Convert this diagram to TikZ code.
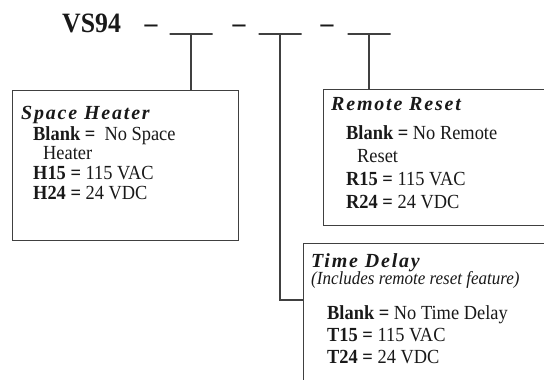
\documentclass[tikz,border=0pt]{standalone}
\usepackage{fontspec}
\setmainfont[FakeStretch=0.92]{Liberation Serif}
\newfontfamily\headfont[LetterSpace=9]{Liberation Serif}
\usetikzlibrary{positioning}

\begin{document}
\begin{tikzpicture}[x=1pt, y=-1pt,
  line/.style = {draw=black!75, line width=1.4pt},
  box/.style = {draw=black!75, line width=1.4pt, rectangle, anchor=north west, inner sep=0pt},
  slot/.style = {draw=black!75, line width=1.4pt, minimum width=43pt, minimum height=0pt, inner sep=0pt},
  code/.style = {anchor=base west, inner sep=0pt, text=black!90, font=\fontsize{28}{30}\selectfont\bfseries},
  head/.style = {anchor=base west, inner sep=0pt, text=black!90, font=\headfont\fontsize{20}{22}\selectfont\bfseries\itshape},
  entry/.style = {anchor=base west, inner sep=0pt, text=black!90, font=\fontsize{20}{22}\selectfont},
  note/.style = {anchor=base west, inner sep=0pt, text=black!90, font=\fontsize{18.5}{20}\selectfont\itshape}]
  \useasboundingbox (0,0) rectangle (544,380);
  \clip (0,0) rectangle (544,380);

  % model code
  \node[code] (vs) at (62,32) {VS94};
  \node[code, anchor=base] (d1) at (151,32) {--};
  \node[code, anchor=base] (d2) at (239,32) {--};
  \node[code, anchor=base] (d3) at (327,32) {--};
  \node[slot] (s1) at (191,34) {};
  \node[slot] (s2) at (280,34) {};
  \node[slot] (s3) at (369,34) {};

  % option boxes
  \node[box, minimum width=226pt, minimum height=150pt] (heater) at (12,90) {};
  \node[box, minimum width=280pt, minimum height=136pt] (remote) at (323,89) {};
  \node[box, minimum width=300pt, minimum height=180pt] (delay) at (303,243) {};

  \draw[line] (s1.south) -- (s1.south |- heater.north);
  \draw[line] (s3.south) -- (s3.south |- remote.north);
  \draw[line] (s2.south) |- ([yshift=-57pt]delay.north west);

  % space heater
  \node[head] (h0) at (21,119) {Space Heater};
  \node[entry] (h1) at (33,140) {\textbf{Blank =}\ \ No Space};
  \node[entry] (h2) at (43,159) {Heater};
  \node[entry] (h3) at (33,179) {\textbf{H15 =} 115 VAC};
  \node[entry] (h4) at (33,199) {\textbf{H24 =} 24 VDC};

  % remote reset
  \node[head] (r0) at (331,110) {Remote Reset};
  \node[entry] (r1) at (346,139) {\textbf{Blank =} No Remote};
  \node[entry] (r2) at (357,162) {Reset};
  \node[entry] (r3) at (346,185) {\textbf{R15 =} 115 VAC};
  \node[entry] (r4) at (346,208) {\textbf{R24 =} 24 VDC};

  % time delay
  \node[head] (t0) at (311,267) {Time Delay};
  \node[note] (tn) at (311,284) {(Includes remote reset feature)};
  \node[entry] (t1) at (327,319) {\textbf{Blank =} No Time Delay};
  \node[entry] (t2) at (327,341) {\textbf{T15 =} 115 VAC};
  \node[entry] (t3) at (327,363) {\textbf{T24 =} 24 VDC};
\end{tikzpicture}
\end{document}
